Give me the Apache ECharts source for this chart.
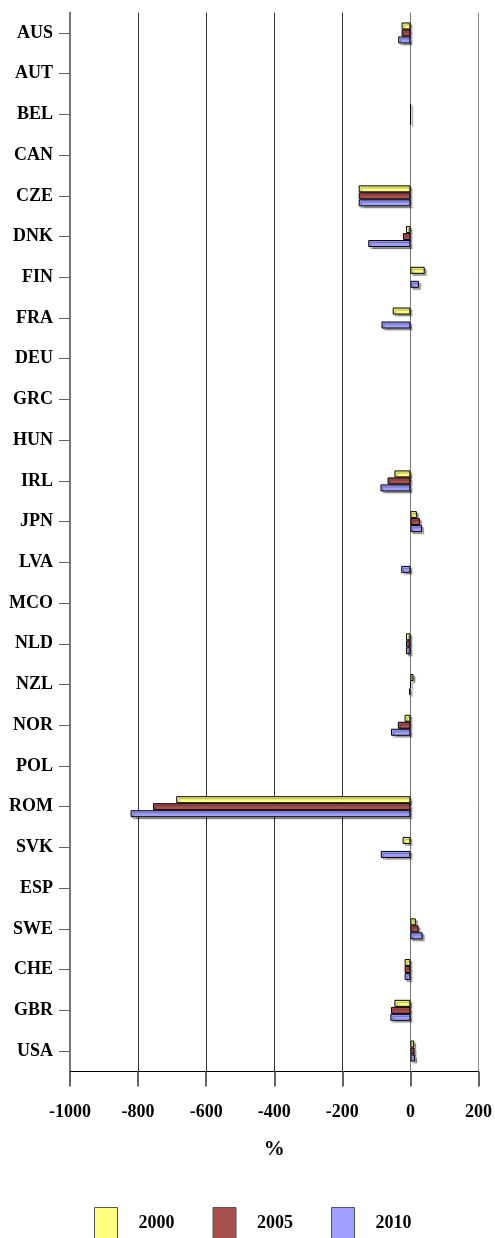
<!DOCTYPE html>
<html><head><meta charset="utf-8">
<script src="https://cdn.jsdelivr.net/npm/echarts@6/dist/echarts.min.js"></script>
<style>html,body{margin:0;padding:0;background:#fff}#c{width:495px;height:1238px}</style>
</head><body><div id="c"></div>
<script>
const categories = ['AUS','AUT','BEL','CAN','CZE','DNK','FIN','FRA','DEU','GRC','HUN','IRL','JPN','LVA','MCO','NLD','NZL','NOR','POL','ROM','SVK','ESP','SWE','CHE','GBR','USA'];
const seriesNames = ['2000','2005','2010'];
const v2000 = [-26,null,1,null,-152,-13,42,-52,null,null,null,-47,19,null,null,-13,9,-17,null,-688,-23,null,16,-17,-47,11];
const v2005 = [-26,null,1,null,-152,-22,null,null,null,null,null,-67,28,null,null,-13,1,-37,null,-756,null,null,24,-17,-57,12];
const v2010 = [-36,null,1,null,-152,-124,25,-85,null,null,null,-88,34,-27,null,-13,-4,-57,null,-822,-87,null,36,-17,-59,14];
const xTicks = [-1000,-800,-600,-400,-200,0,200];

const colors = ['#FFFF80','#A85050','#A0A0FF'];
const font = 'Liberation Serif';
const chart = echarts.init(document.getElementById('c'));
const mk = (name, data, i) => ({
  name, type:'bar', data, barWidth:7, barGap:'0%',
  itemStyle:{color:colors[i], borderColor:'#000', borderWidth:1,
    shadowColor:'rgba(0,0,0,0.35)', shadowOffsetX:2, shadowOffsetY:2, shadowBlur:1},
  emphasis:{disabled:true}
});
chart.setOption({
  animation:false,
  grid:{left:70, right:15, top:12.6, bottom:166.6},
  legend:{
    data:seriesNames, top:1202, left:89, itemWidth:23, itemHeight:32, itemGap:38,
    icon:'rect',
    itemStyle:{borderColor:'#555', borderWidth:1},
    textStyle:{fontFamily:font, fontSize:18, fontWeight:'bold', color:'#000', padding:[0,0,0,16]}
  },
  xAxis:{
    type:'value', min:-1000, max:200, interval:200,
    name:'%', nameLocation:'middle', nameGap:68,
    nameTextStyle:{fontFamily:font, fontSize:21, fontWeight:'bold', color:'#000'},
    axisLine:{show:true, lineStyle:{color:'#000', width:1}},
    axisTick:{show:true, length:15, lineStyle:{color:'#666', width:2}},
    axisLabel:{fontFamily:font, fontSize:18, fontWeight:'bold', color:'#000', margin:32,
      formatter:(v)=> xTicks.includes(v) ? String(v) : ''},
    splitLine:{show:true, lineStyle:{color:['#333','#333','#333','#333','#333','#777','#888'], width:1}}
  },
  yAxis:{
    type:'category', data:categories, inverse:true,
    axisLine:{show:true, onZero:false, lineStyle:{color:'#777', width:2}},
    axisTick:{show:true, alignWithLabel:true, length:11, lineStyle:{color:'#666'}},
    axisLabel:{fontFamily:font, fontSize:18, fontWeight:'bold', color:'#000', margin:17},
    splitLine:{show:false}
  },
  series:[mk(seriesNames[0], v2000, 0), mk(seriesNames[1], v2005, 1), mk(seriesNames[2], v2010, 2)]
});
</script></body></html>
